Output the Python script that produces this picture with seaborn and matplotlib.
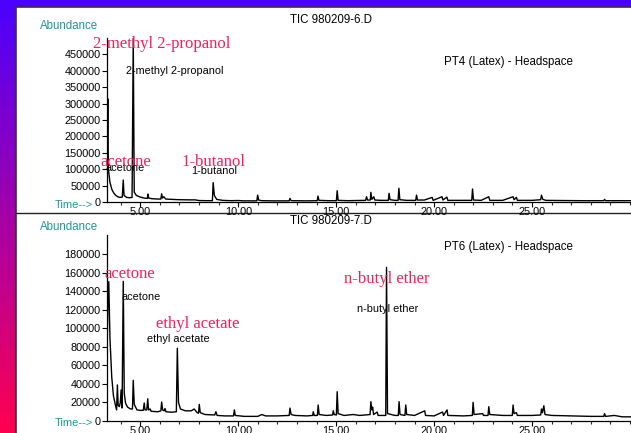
import numpy as np
import pandas as pd
import matplotlib
matplotlib.use("Agg")
import matplotlib.pyplot as plt
import seaborn as sns
from matplotlib.patches import Rectangle
from matplotlib.lines import Line2D

sns.set_theme(style="white")
plt.rcParams['font.family'] = ['Liberation Sans', 'DejaVu Sans']

# ---------------- data ----------------
# Run 1 : TIC 980209-6.D  (PT4 (Latex) - Headspace)
run1_time = [3.30, 3.34, 3.37, 3.45, 3.55, 3.65, 3.75, 3.85, 3.95, 4.08, 4.13, 4.17, 4.30, 4.45,
             4.58, 4.64, 4.69, 4.80, 5.00, 5.20, 5.36, 5.39, 5.43, 5.60, 5.90, 6.05, 6.09, 6.13,
             6.20, 6.30, 6.60, 7.00, 7.50, 7.80, 8.00, 8.40, 8.68, 8.72, 8.78, 8.90, 9.20, 9.60,
             10.00, 10.30, 10.95, 10.99, 11.04, 11.20, 11.80, 12.60, 12.64, 12.70, 13.50, 14.03,
             14.07, 14.12, 14.60, 15.01, 15.05, 15.10, 15.60, 16.00, 16.50, 16.55, 16.60, 16.74,
             16.77, 16.82, 16.92, 16.97, 17.30, 17.66, 17.70, 17.75, 18.00, 18.16, 18.20, 18.25,
             18.60, 19.06, 19.10, 19.15, 19.50, 19.90, 19.95, 20.40, 20.45, 20.65, 20.70, 21.00,
             21.92, 21.96, 22.01, 22.40, 22.79, 22.84, 23.50, 24.03, 24.08, 24.20, 24.25, 25.00,
             25.44, 25.48, 25.55, 25.70, 26.50, 27.50, 28.66, 28.70, 28.75, 29.50, 30.05]
run1_abund = [90000, 315000, 100000, 60000, 38000, 27000, 20000, 16000, 14000, 15000, 67000, 20000,
              14000, 13000, 14000, 500000, 30000, 20000, 15000, 12000, 11000, 24000, 12000, 10000,
              9000, 9000, 25000, 12000, 16000, 9000, 8000, 7000, 6500, 6500, 4500, 4000, 4000,
              59000, 20000, 8000, 5000, 4000, 4500, 3500, 3500, 21000, 6000, 4000, 3500, 3500,
              11000, 4000, 3500, 4000, 18000, 5000, 4000, 4000, 34500, 5000, 4000, 4500, 5000,
              16000, 6000, 6000, 29500, 8000, 16000, 6000, 5000, 5000, 26500, 7000, 5000, 5000,
              42000, 7000, 5000, 5000, 21000, 6000, 6000, 14000, 5000, 16000, 6000, 15000, 5000,
              5000, 5000, 39600, 6000, 5000, 16000, 5000, 5000, 16000, 7000, 14000, 5000, 5000,
              7000, 21000, 8000, 5000, 4500, 4000, 4000, 8000, 4000, 4000, 4000]

# Run 2 : TIC 980209-7.D  (PT6 (Latex) - Headspace)
run2_time = [3.30, 3.34, 3.39, 3.45, 3.54, 3.63, 3.71, 3.79, 3.83, 3.87, 3.93, 3.98, 4.02, 4.07,
             4.13, 4.18, 4.25, 4.35, 4.50, 4.60, 4.64, 4.69, 4.83, 5.00, 5.15, 5.20, 5.24, 5.33,
             5.38, 5.42, 5.50, 5.55, 5.90, 6.05, 6.09, 6.14, 6.22, 6.26, 6.31, 6.60, 6.84, 6.89,
             6.95, 7.05, 7.30, 7.60, 7.75, 7.90, 7.97, 8.01, 8.06, 8.30, 8.80, 8.86, 8.92, 9.30,
             9.76, 9.80, 9.85, 10.30, 11.00, 11.20, 11.40, 12.00, 12.60, 12.64, 12.70, 12.90,
             13.50, 13.80, 13.83, 13.88, 14.04, 14.08, 14.13, 14.50, 14.82, 14.85, 14.90, 15.01,
             15.05, 15.10, 15.40, 15.87, 16.20, 16.73, 16.77, 16.82, 16.86, 16.91, 17.09, 17.14,
             17.53, 17.57, 17.62, 18.00, 18.17, 18.21, 18.26, 18.51, 18.55, 18.60, 19.00, 19.52,
             19.56, 20.00, 20.43, 20.48, 20.66, 20.70, 21.50, 21.95, 21.99, 22.04, 22.48, 22.52,
             22.75, 22.79, 22.84, 23.50, 23.99, 24.03, 24.08, 24.20, 24.25, 25.00, 25.44, 25.48,
             25.53, 25.60, 25.66, 26.00, 27.00, 28.00, 28.66, 28.70, 28.75, 29.20, 29.60, 30.05]
run2_abund = [71000, 120000, 150600, 90000, 48000, 27000, 19000, 12000, 39000, 17000, 15500, 20000,
              33500, 14000, 151000, 30000, 19000, 15000, 13000, 13000, 44000, 18000, 12000, 11500,
              11500, 19500, 12000, 12000, 24000, 12000, 13000, 10500, 10000, 11000, 20500, 12000,
              11000, 13500, 10000, 9500, 10000, 78600, 20000, 13000, 11000, 11000, 13000, 9000,
              8500, 18000, 9000, 7000, 6500, 10000, 6000, 5500, 5500, 12000, 6000, 5000, 5000,
              7000, 5500, 5500, 6000, 14000, 7000, 6000, 5500, 6000, 10000, 6000, 6000, 17300,
              7000, 6000, 6500, 11000, 7000, 6500, 31700, 8000, 6000, 7000, 6000, 7000, 20900,
              12000, 15000, 7000, 9700, 6000, 6000, 166000, 8000, 6000, 6000, 20900, 7000, 6000,
              17300, 7000, 6000, 11000, 6000, 5500, 9700, 6000, 12000, 6000, 5500, 6000, 20200,
              7000, 8000, 6000, 6000, 15500, 7000, 6000, 6000, 17300, 8000, 9000, 6000, 6000,
              6500, 13000, 9000, 16500, 7000, 6000, 5500, 5000, 5000, 8000, 5000, 6000, 4500, 4500]

panel_titles = ["TIC 980209-6.D", "TIC 980209-7.D"]
panel_samples = ["PT4 (Latex) - Headspace", "PT6 (Latex) - Headspace"]
run1_labels = ["2-methyl 2-propanol", "acetone", "1-butanol"]
run2_labels = ["acetone", "ethyl acetate", "n-butyl ether"]
run1_yticks = list(range(0, 450001, 50000))
run2_yticks = list(range(0, 180001, 20000))
x_major = [5, 10, 15, 20, 25]
x_minor = list(range(4, 31))

# ---------------- layout ----------------
W, H = 631, 433
fig = plt.figure(figsize=(W / 100, H / 100), dpi=100)

def fx(x):
    return x / W

def fy(y):
    return 1 - y / H

# background gradient
bg = fig.add_axes([0, 0, 1, 1])
bg.set_axis_off()
c_top = np.array([74, 0, 255]) / 255
c_bot = np.array([255, 0, 80]) / 255
tt = np.linspace(0, 1, 256)[:, None]
grad = (c_top[None, :] * (1 - tt) + c_bot[None, :] * tt)[:, None, :]
bg.imshow(grad, aspect='auto', extent=[0, 1, 0, 1], origin='upper')
bg.set_xlim(0, 1)
bg.set_ylim(0, 1)
bg.add_patch(Rectangle((fx(15.5), 0), 1 - fx(15.5), fy(6.5), facecolor='white',
                       edgecolor='none', zorder=2))
bg.add_line(Line2D([fx(15.5), fx(15.5)], [0, fy(6.5)], color='#333333', lw=1.2, zorder=3))
bg.add_line(Line2D([fx(15.5), 1], [fy(6.5), fy(6.5)], color='#333333', lw=1.2, zorder=3))
bg.add_line(Line2D([fx(15.5), 1], [fy(212.5), fy(212.5)], color='#222222', lw=1.0, zorder=3))

teal = '#209696'
red = '#f5205a'

panels = [
    dict(time=run1_time, abund=run1_abund, top=38, base=202, ymax=500000, yticks=run1_yticks),
    dict(time=run2_time, abund=run2_abund, top=235, base=421, ymax=201000, yticks=run2_yticks),
]

axes = []
for i, p in enumerate(panels):
    ax = fig.add_axes([fx(107), fy(p['base']), 1 - fx(107), (p['base'] - p['top']) / H])
    ax.patch.set_alpha(0)
    df = pd.DataFrame({'time': p['time'], 'abundance': p['abund']})
    sns.lineplot(data=df, x='time', y='abundance', ax=ax, color='black', lw=1.0,
                 estimator=None, sort=False)
    ax.set_xlim(3.3, 30.05)
    ax.set_ylim(0, p['ymax'])
    ax.set_xlabel('')
    ax.set_ylabel('')
    for s in ['top', 'right']:
        ax.spines[s].set_visible(False)
    for s in ['left', 'bottom']:
        ax.spines[s].set_color('black')
        ax.spines[s].set_linewidth(0.9)
    ax.set_yticks(p['yticks'])
    ax.set_yticklabels([str(v) for v in p['yticks']])
    ax.set_xticks(x_major)
    ax.set_xticklabels([f"{v:.2f}" for v in x_major])
    ax.set_xticks(x_minor, minor=True)
    ax.tick_params(axis='both', which='major', direction='out', length=3.5, width=0.8,
                   labelsize=7.8, pad=1, colors='black', left=True, bottom=True)
    ax.tick_params(axis='x', which='major', pad=0)
    ax.tick_params(axis='x', which='minor', direction='out', length=2.5, width=0.8, bottom=True)
    ax.grid(False)
    axes.append(ax)

# panel texts
for i, (tcy, ttl, smp, scy, aby, tmy) in enumerate([
        (20, panel_titles[0], panel_samples[0], 62, 26, 205),
        (221, panel_titles[1], panel_samples[1], 247, 227, 423.5)]):
    fig.text(fx(331), fy(tcy), ttl, ha='center', va='center', fontsize=8.3, color='black')
    fig.text(fx(508), fy(scy), smp, ha='center', va='center', fontsize=8.3, color='black')
    fig.text(fx(40), fy(aby), "Abundance", ha='left', va='center', fontsize=8.3, color=teal)
    fig.text(fx(55), fy(tmy), "Time-->", ha='left', va='center', fontsize=8.0, color=teal)

# compound labels (red large serif + small black)
red_pos1 = [(162, 44), (125.5, 162), (213.5, 162)]
blk_pos1 = [(174.5, 71), (125, 168), (214.5, 171)]
red_pos2 = [(130, 273.5), (198, 324.5), (386.5, 279)]
blk_pos2 = [(141.5, 296.5), (178, 339.5), (387.5, 308.5)]
for labels, rp, bp in [(run1_labels, red_pos1, blk_pos1), (run2_labels, red_pos2, blk_pos2)]:
    for lab, (rx, ry), (bx, by) in zip(labels, rp, bp):
        fig.text(fx(bx), fy(by), lab, ha='center', va='center', fontsize=7.8, color='black')
        fig.text(fx(rx), fy(ry), lab, ha='center', va='center', fontsize=12, color=red,
                 family=['Liberation Serif', 'DejaVu Serif'])

fig.savefig('out.png', dpi=100)
